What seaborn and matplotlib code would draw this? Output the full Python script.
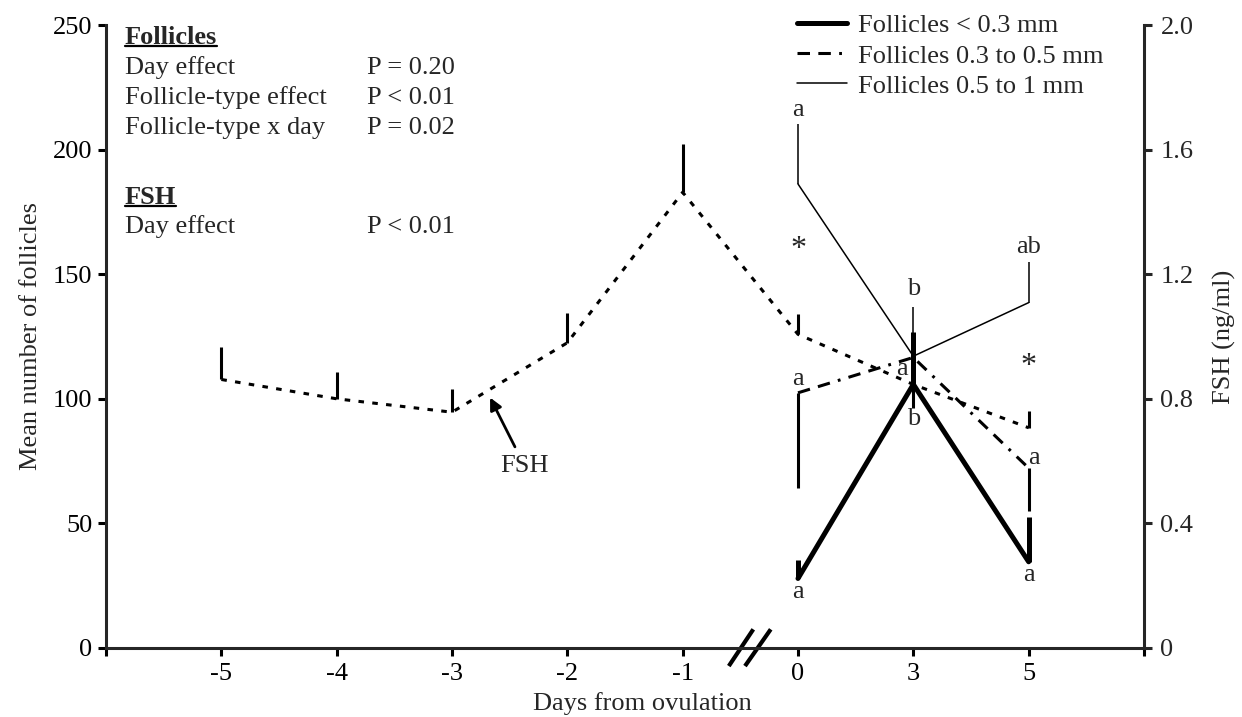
import matplotlib
matplotlib.use('Agg')
import matplotlib.pyplot as plt
import seaborn as sns
import pandas as pd
from matplotlib.lines import Line2D

# days on the x axis (categorical, evenly spaced, broken between -1 and 0)
days = ['-5', '-4', '-3', '-2', '-1', '0', '3', '5']

# FSH (ng/ml), mean and upper SEM
fsh = [0.862, 0.800, 0.757, 0.980, 1.463, 1.007, 0.846, 0.707]
fsh_sem = [0.104, 0.087, 0.073, 0.097, 0.156, 0.064, 0.070, 0.053]

# follicle counts, days 0, 3, 5
foll_days = ['0', '3', '5']
small = [27.9, 105.8, 34.6]        # < 0.3 mm
small_sem = [7.4, 20.9, 18.1]
mid = [102.4, 116.6, 72.2]         # 0.3 to 0.5 mm
mid_sem = [38.2, 20.1, 17.4]
large = [186.2, 117.1, 138.6]      # 0.5 to 1 mm
large_sem = [24.2, 19.7, 16.1]

series_labels = ['Follicles < 0.3 mm', 'Follicles 0.3 to 0.5 mm', 'Follicles 0.5 to 1 mm']

# significance letters: (day, y, text)
letters = [('0', 215.7, 'a'), ('0', 160.0, '*'), ('0', 107.8, 'a'), ('0', 22.5, 'a'),
           ('3', 143.9, 'b'), ('3', 111.8, 'a'), ('3', 91.7, 'b'),
           ('5', 160.8, 'ab'), ('5', 112.8, '*'), ('5', 76.4, 'a'), ('5', 29.3, 'a')]

stats_rows = [('Follicles', '', True), ('Day effect', 'P = 0.20', False),
              ('Follicle-type effect', 'P < 0.01', False),
              ('Follicle-type x day', 'P = 0.02', False),
              ('FSH', '', True), ('Day effect', 'P < 0.01', False)]


def pos(d):
    return days.index(d) + 1


sns.set_style('ticks')
plt.rcParams['font.family'] = ['Liberation Serif', 'DejaVu Serif']
plt.rcParams['font.size'] = 19
plt.rcParams['lines.scale_dashes'] = False

W, H = 1242, 717
fig = plt.figure(figsize=(W / 100, H / 100), dpi=100)
ax = fig.add_axes([106 / W, 1 - 648 / H, 1038 / W, 623 / H])
ax2 = ax.twinx()

x_f = [pos(d) for d in foll_days]
x_fsh = [pos(d) for d in days]

df_f = pd.DataFrame({'x': x_f, 'small': small, 'mid': mid, 'large': large})
df_h = pd.DataFrame({'x': x_fsh, 'fsh': fsh})

mid_dash = (0, (9, 6, 9, 6, 2, 6))
fsh_dash = (0, (4, 6))
styles = {
    'small': dict(lw=3.6, ls='-'),
    'mid': dict(lw=2.2, ls=mid_dash),
    'large': dict(lw=1.1, ls='-'),
}

# one-sided error bars
ax.errorbar(x_f, small, yerr=[[0] * 3, small_sem], fmt='none', ecolor='black', elinewidth=3.6, capsize=0)
ax.errorbar(x_f, mid, yerr=[mid_sem, [0] * 3], fmt='none', ecolor='black', elinewidth=2.2, capsize=0)
ax.errorbar(x_f, large, yerr=[[0] * 3, large_sem], fmt='none', ecolor='black', elinewidth=1.1, capsize=0)
ax2.errorbar(x_fsh, fsh, yerr=[[0] * 8, fsh_sem], fmt='none', ecolor='black', elinewidth=2.2, capsize=0)

for key in ['small', 'mid', 'large']:
    sns.lineplot(data=df_f, x='x', y=key, ax=ax, color='black', estimator=None,
                 linewidth=styles[key]['lw'], linestyle=styles[key]['ls'])
sns.lineplot(data=df_h, x='x', y='fsh', ax=ax2, color='black', estimator=None,
             linewidth=2.2, linestyle=fsh_dash)

ax.set_xlim(0, 9)
ax.set_ylim(0, 250)
ax2.set_ylim(0, 2.0)
ax.set_xticks(range(0, 10))
ax.set_xticklabels([''] + days + [''])
ax.set_yticks([0, 50, 100, 150, 200, 250])
ax2.set_yticks([0, 0.4, 0.8, 1.2, 1.6, 2.0])
ax2.set_yticklabels(['0', '0.4', '0.8', '1.2', '1.6', '2.0'])

ax.set_xlabel('Days from ovulation', labelpad=2)
ax.xaxis.set_label_coords(0.517, -0.07)
ax.set_ylabel('Mean number of follicles', labelpad=8)
ax2.set_ylabel('FSH (ng/ml)', labelpad=14)

for a in (ax, ax2):
    a.spines['top'].set_visible(False)
    for s in a.spines.values():
        s.set_linewidth(2.2)
ax.spines['right'].set_visible(False)
ax2.spines['left'].set_visible(False)
ax2.spines['bottom'].set_visible(False)
ax.tick_params(axis='both', direction='out', length=5.8, width=2.2, colors='black')
ax.tick_params(axis='y', pad=4)
ax.tick_params(axis='x', pad=5)
ax2.tick_params(axis='y', direction='out', length=5.8, width=2.2, pad=6)

# axis break marks
for x0, x1 in [(0.600, 0.6236), (0.6156, 0.6404)]:
    ax.plot([x0, x1], [-0.029, 0.030], transform=ax.transAxes, color='black',
            lw=3, clip_on=False, solid_capstyle='butt')

for d, y, t in letters:
    xx = pos(d)
    if t == 'a' and d == '3':
        xx -= 0.1
    if t == 'a' and d == '5' and y > 60:
        xx += 0.05
    ax.text(xx, y, t, ha='center', va='center', fontsize=23 if t == '*' else 19)

ax.annotate('FSH', xy=(3.33, 100.5), xytext=(3.63, 73), ha='center', va='center',
            arrowprops=dict(arrowstyle='-|>', color='black', lw=2, mutation_scale=18,
                            shrinkA=4, shrinkB=0))

# stats block
row_y = [37, 68, 98, 128, 197, 227]
bold_texts = []
for (lab, p, bold), ypx in zip(stats_rows, row_y):
    t = fig.text(125 / W, 1 - ypx / H, lab, ha='left', va='center',
                 fontweight='bold' if bold else 'normal')
    if bold:
        bold_texts.append(t)
    if p:
        fig.text(367 / W, 1 - ypx / H, p, ha='left', va='center')

handles = [Line2D([], [], color='black', lw=styles[k]['lw'], ls=styles[k]['ls'])
           for k in ['small', 'mid', 'large']]
ax.legend(handles, series_labels, loc='upper left', bbox_to_anchor=(797 / W, 1 - 14 / H),
          bbox_transform=fig.transFigure, frameon=False, borderpad=0, borderaxespad=0,
          handlelength=1.9, handletextpad=0.4, labelspacing=0.25, fontsize=19)

fig.canvas.draw()
renderer = fig.canvas.get_renderer()
for t in bold_texts:
    bb = t.get_window_extent(renderer)
    yy = (bb.y0 + 3) / H
    fig.add_artist(Line2D([bb.x0 / W, bb.x1 / W], [yy, yy], color='black', lw=1.6,
                          transform=fig.transFigure))

fig.savefig('out.png', dpi=100)
